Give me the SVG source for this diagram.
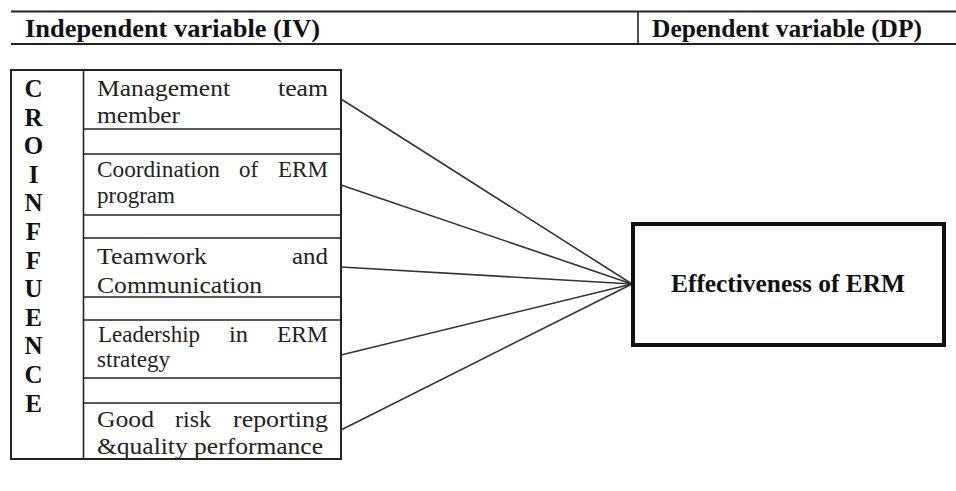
<svg xmlns="http://www.w3.org/2000/svg" width="956" height="491" viewBox="0 0 956 491" font-family="Liberation Serif, Times New Roman, serif">
<style>
text{font-family:'Liberation Serif','Times New Roman',serif}
.hd{font-weight:bold;font-size:25px;fill:#111}
.bd{font-size:24px;fill:#222}
.lt{font-weight:bold;font-size:25px;fill:#111;text-anchor:middle}
.ln{stroke:#222;stroke-width:2;fill:none}
.thin{stroke:#222;stroke-width:1.6;fill:none}
.cn{stroke:#333;stroke-width:1.6;fill:none}
</style>
<rect width="956" height="491" fill="#fff"/>
<g id="header">
<line class="ln" x1="11" y1="11.5" x2="956" y2="11.5"/>
<line class="ln" x1="11" y1="44" x2="956" y2="44"/>
<line class="thin" x1="638" y1="11.5" x2="638" y2="44"/>
<text class="hd" x="25" y="37" textLength="295" lengthAdjust="spacingAndGlyphs">Independent variable (IV)</text>
<text class="hd" x="652" y="37" textLength="270" lengthAdjust="spacingAndGlyphs">Dependent variable (DP)</text>
</g>
<g id="croinfluence">
<rect class="ln" x="11" y="70" width="330" height="389"/>
<line class="thin" x1="83.5" y1="70" x2="83.5" y2="459"/>
<text class="lt" x="33.5" y="97">C</text>
<text class="lt" x="33.5" y="125.6">R</text>
<text class="lt" x="33.5" y="154.2">O</text>
<text class="lt" x="33.5" y="182.8">I</text>
<text class="lt" x="33.5" y="211.4">N</text>
<text class="lt" x="33.5" y="240">F</text>
<text class="lt" x="33.5" y="268.6">F</text>
<text class="lt" x="33.5" y="297.2">U</text>
<text class="lt" x="33.5" y="325.8">E</text>
<text class="lt" x="33.5" y="354.4">N</text>
<text class="lt" x="33.5" y="383">C</text>
<text class="lt" x="33.5" y="411.6">E</text>
</g>
<g id="separators">
<line class="thin" x1="83.5" y1="129" x2="341" y2="129"/>
<line class="thin" x1="83.5" y1="154" x2="341" y2="154"/>
<line class="thin" x1="83.5" y1="215" x2="341" y2="215"/>
<line class="thin" x1="83.5" y1="238" x2="341" y2="238"/>
<line class="thin" x1="83.5" y1="297" x2="341" y2="297"/>
<line class="thin" x1="83.5" y1="320" x2="341" y2="320"/>
<line class="thin" x1="83.5" y1="378" x2="341" y2="378"/>
<line class="thin" x1="83.5" y1="403" x2="341" y2="403"/>
</g>
<g id="management">
<text class="bd" x="97" y="96" textLength="133" lengthAdjust="spacingAndGlyphs">Management</text>
<text class="bd" x="278" y="96" textLength="50" lengthAdjust="spacingAndGlyphs">team</text>
<text class="bd" x="97" y="123" textLength="83" lengthAdjust="spacingAndGlyphs">member</text>
</g>
<g id="coordination">
<text class="bd" x="97" y="177" textLength="123" lengthAdjust="spacingAndGlyphs">Coordination</text>
<text class="bd" x="239" y="177" textLength="19" lengthAdjust="spacingAndGlyphs">of</text>
<text class="bd" x="278" y="177" textLength="50" lengthAdjust="spacingAndGlyphs">ERM</text>
<text class="bd" x="97" y="203" textLength="78" lengthAdjust="spacingAndGlyphs">program</text>
</g>
<g id="teamwork">
<text class="bd" x="97" y="264" textLength="110" lengthAdjust="spacingAndGlyphs">Teamwork</text>
<text class="bd" x="292" y="264" textLength="36" lengthAdjust="spacingAndGlyphs">and</text>
<text class="bd" x="97" y="293" textLength="165" lengthAdjust="spacingAndGlyphs">Communication</text>
</g>
<g id="leadership">
<text class="bd" x="98" y="342" textLength="102" lengthAdjust="spacingAndGlyphs">Leadership</text>
<text class="bd" x="229" y="342" textLength="19" lengthAdjust="spacingAndGlyphs">in</text>
<text class="bd" x="277" y="342" textLength="51" lengthAdjust="spacingAndGlyphs">ERM</text>
<text class="bd" x="97" y="367" textLength="73" lengthAdjust="spacingAndGlyphs">strategy</text>
</g>
<g id="reporting">
<text class="bd" x="97" y="427" textLength="57" lengthAdjust="spacingAndGlyphs">Good</text>
<text class="bd" x="175" y="427" textLength="36" lengthAdjust="spacingAndGlyphs">risk</text>
<text class="bd" x="233" y="427" textLength="95" lengthAdjust="spacingAndGlyphs">reporting</text>
<text class="bd" x="97" y="454" textLength="226" lengthAdjust="spacingAndGlyphs">&amp;quality performance</text>
</g>
<g id="connectors">
<line class="cn" x1="341" y1="99" x2="632" y2="284"/>
<line class="cn" x1="341" y1="185" x2="632" y2="284"/>
<line class="cn" x1="341" y1="267" x2="632" y2="284"/>
<line class="cn" x1="341" y1="355" x2="632" y2="284"/>
<line class="cn" x1="341" y1="430" x2="632" y2="284"/>
</g>
<g id="erm">
<rect x="633" y="224" width="311" height="121" fill="#fff" stroke="#111" stroke-width="4"/>
<text class="hd" x="671" y="292" textLength="234" lengthAdjust="spacingAndGlyphs">Effectiveness of ERM</text>
</g>
</svg>
